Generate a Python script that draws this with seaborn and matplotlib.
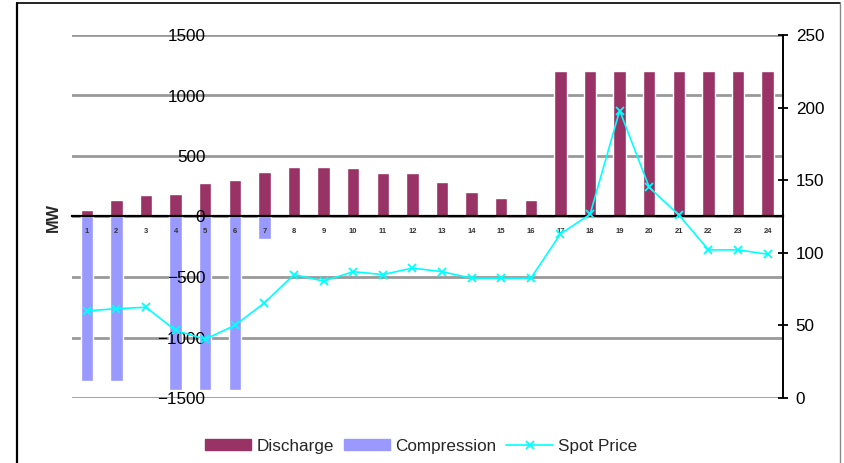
import numpy as np
import pandas as pd
import matplotlib
matplotlib.use("Agg")
import matplotlib.pyplot as plt
from matplotlib.lines import Line2D
from matplotlib.patches import Patch
from matplotlib.ticker import MultipleLocator
import seaborn as sns

# hourly data
hours = [str(h) for h in range(1, 25)]
discharge = [55, 140, 175, 190, 275, 300, 370, 410, 410, 400, 360, 360,
             285, 200, 150, 140, 1200, 1200, 1200, 1200, 1200, 1200, 1200, 1200]
compression = [-1360, -1360, 0, -1430, -1430, -1430, -190, 0, 0, 0, 0, 0,
               0, 0, 0, 0, 0, 0, 0, 0, 0, 0, 0, 0]
spot_price = [60, 61.5, 62.5, 46.5, 40.5, 50, 65.5, 85, 80.5, 87, 85, 89.5,
              87, 82.5, 82.5, 82.5, 113, 126.5, 198, 145, 126, 102, 102, 99]
mw_ticks = [-1500, -1000, -500, 0, 500, 1000, 1500]

df = pd.DataFrame({"hour": hours, "discharge": discharge,
                   "compression": compression, "price": spot_price})

C_DIS = "#993366"
C_COMP = "#9999FF"
C_PRICE = "#00FFFF"

sns.set_style("white")
plt.rcParams["font.family"] = ["Liberation Sans", "DejaVu Sans"]
plt.rcParams["axes.axisbelow"] = False

fig = plt.figure(figsize=(8.45, 4.63), dpi=100)
ax = fig.add_axes([72 / 845, 1 - 398 / 463, (782.5 - 72) / 845, (398 - 35) / 463])

# grey gridlines behind the bars (tick labels stay on top)
for v in mw_ticks:
    ax.axhline(v, color="#999999", lw=2.0, zorder=0)

sns.barplot(data=df, x="hour", y="discharge", color=C_DIS, width=0.42,
            saturation=1, ax=ax, zorder=1)
sns.barplot(data=df, x="hour", y="compression", color=C_COMP, width=0.42,
            saturation=1, ax=ax, zorder=1)

ax.set_axisbelow(False)
ax.set_xlim(-0.5, 23.5)
ax.set_ylim(-1500, 1500)
ax.set_yticks(mw_ticks)
ax.grid(False)
for s in ["left", "top", "right"]:
    ax.spines[s].set_visible(False)
ax.spines["bottom"].set_position(("data", 0))
ax.spines["bottom"].set_color("black")
ax.spines["bottom"].set_linewidth(1.6)
ax.spines["bottom"].set_zorder(3)

ax.tick_params(axis="y", length=0, pad=-96, labelsize=12.3, colors="black")
for t in ax.get_yticklabels():
    t.set_horizontalalignment("right")
ax.set_xticks(range(24))
ax.set_xticklabels(hours)
ax.set_xticks(np.arange(-0.5, 24, 1), minor=True)
ax.tick_params(axis="x", which="major", length=0, pad=8, labelsize=5.5,
               labelcolor="#333333")
ax.tick_params(axis="x", which="minor", length=2.5, width=1.5, direction="out",
               color="black")
for t in ax.get_xticklabels():
    t.set_fontweight("bold")
ax.set_xlabel("")
ax.set_ylabel("")
fig.text(53 / 845, 1 - 217 / 463, "MW", rotation=90, ha="center", va="center",
         fontsize=11.7, fontweight="bold")

ax2 = ax.twinx()
sns.lineplot(data=df, x="hour", y="price", color=C_PRICE, lw=1.2, marker="x",
             markersize=6, markeredgewidth=1.3, markeredgecolor=C_PRICE, ax=ax2)
ax2.set_ylim(0, 250)
ax2.yaxis.set_major_locator(MultipleLocator(50))
ax2.set_ylabel("")
for s in ["left", "top", "bottom"]:
    ax2.spines[s].set_visible(False)
ax2.spines["right"].set_color("black")
ax2.spines["right"].set_linewidth(1.4)
ax2.tick_params(axis="y", direction="inout", length=7, width=1.3,
                pad=6, labelsize=12.3, colors="black")
ax2.grid(False)
ax.set_xlim(-0.5, 23.5)

handles = [Patch(color=C_DIS, label="Discharge"),
           Patch(color=C_COMP, label="Compression"),
           Line2D([], [], color=C_PRICE, lw=1.2, marker="x", markersize=6,
                  markeredgewidth=1.3, label="Spot Price")]
fig.legend(handles=handles, loc="center", bbox_to_anchor=(421 / 845, 1 - 446 / 463),
           ncol=3, frameon=False, fontsize=12.3, handlelength=2.75,
           handleheight=0.66, handletextpad=0.3, columnspacing=0.55)

# outer chart border
fig.add_artist(Line2D([17 / 845, 17 / 845], [0, 1 - 3 / 463], color="black", lw=1.6))
fig.add_artist(Line2D([17 / 845, 840 / 845], [1 - 3 / 463, 1 - 3 / 463], color="black", lw=1.2))
fig.add_artist(Line2D([840 / 845, 840 / 845], [0, 1 - 3 / 463], color="#888888", lw=1.0))

fig.savefig("out.png", dpi=100)
